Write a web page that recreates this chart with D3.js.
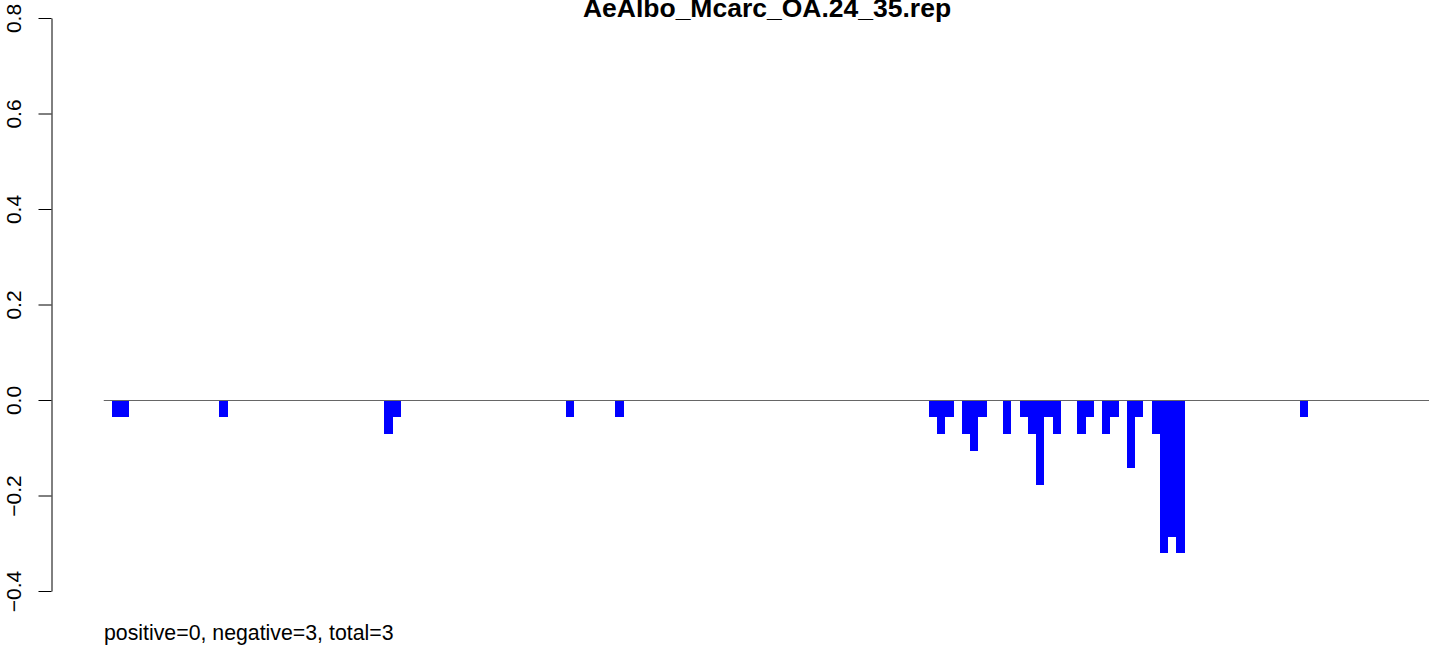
<!DOCTYPE html>
<html><head><meta charset="utf-8">
<script src="https://cdn.jsdelivr.net/npm/d3@7"></script>
<style>html,body{margin:0;padding:0;background:#fff;}svg{display:block;}</style>
</head><body>
<svg id="c" width="1429" height="645"></svg>
<script>
const title = "AeAlbo_Mcarc_OA.24_35.rep";
const footer = "positive=0, negative=3, total=3";
const binIndex = [1,2,14,34,35,56,62,100,101,102,104,105,106,109,111,112,113,114,115,118,119,121,122,124,125,127,128,129,130,145];
const binValue = [-0.036,-0.036,-0.036,-0.071,-0.036,-0.036,-0.036,-0.036,-0.071,-0.036,-0.071,-0.107,-0.036,-0.071,-0.036,-0.071,-0.179,-0.036,-0.071,-0.071,-0.036,-0.071,-0.036,-0.143,-0.036,-0.071,-0.321,-0.286,-0.321,-0.036];
const yTicks = [-0.4,-0.2,0.0,0.2,0.4,0.6,0.8];
const yTickLabels = ["\u22120.4","\u22120.2","0.0","0.2","0.4","0.6","0.8"];
const binCount = 161;

const svg = d3.select("#c");
const font = "'Liberation Sans', Arial, sans-serif";
const y = d3.scaleLinear().domain([-0.4, 0.8]).range([591, 18]);
const x = d3.scaleLinear().domain([0, binCount]).range([103.75, 103.75 + binCount*8.25]);

// bars
const data = binIndex.map((b,i)=>({b, v: binValue[i]}));
svg.append("g").selectAll("rect").data(data).join("rect")
  .attr("x", d=>x(d.b)).attr("width", d=>x(d.b+1)-x(d.b))
  .attr("y", d=>y(Math.max(0,d.v))).attr("height", d=>Math.abs(y(d.v)-y(0)))
  .attr("fill", "#0000ff").attr("shape-rendering","crispEdges");

// zero line
svg.append("line").attr("x1", x(0)).attr("x2", x(binCount)).attr("y1", y(0)+0.5).attr("y2", y(0)+0.5)
  .attr("stroke", "#666").attr("stroke-width", 1);

// y axis
const axis = d3.axisLeft(y).tickValues(yTicks).tickSize(13).tickSizeOuter(0).tickFormat((d,i)=>yTickLabels[i]);
const g = svg.append("g").attr("transform","translate(51.5,0)").call(axis);
g.select(".domain").attr("stroke","#000");
g.selectAll(".tick line").attr("stroke","#000");
g.selectAll(".tick text").attr("font-family", font).attr("font-size", 21).attr("fill","#000")
  .attr("transform", "rotate(-90)").attr("text-anchor","middle")
  .attr("x", 0).attr("y", -31).attr("dy", 0);

// title
svg.append("text").attr("x", 767).attr("y", 17).attr("text-anchor","middle")
  .attr("font-family", font).attr("font-weight","bold").attr("font-size", 26.5).text(title);

// footer
svg.append("text").attr("x", 104).attr("y", 640).attr("font-family", font).attr("font-size", 21.3).text(footer);
</script>
</body></html>
